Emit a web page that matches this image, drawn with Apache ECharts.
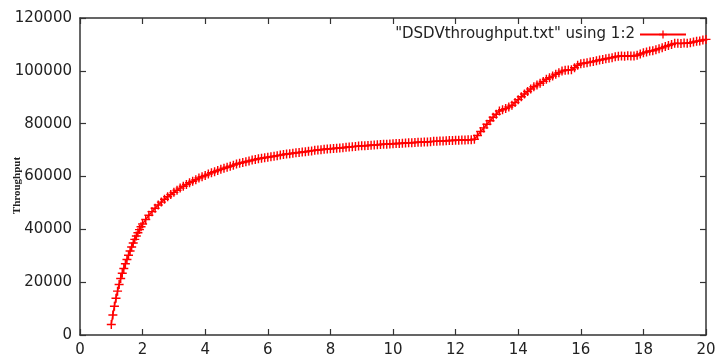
<!DOCTYPE html>
<html>
<head>
<meta charset="utf-8">
<script src="https://cdn.jsdelivr.net/npm/echarts@6/dist/echarts.min.js"></script>
<style>html,body{margin:0;padding:0;background:#fff;}#c{width:720px;height:358px;}</style>
</head>
<body>
<div id="c"></div>
<script>
var seriesName = '"DSDVthroughput.txt" using 1:2';
var times = [
1.00,1.05,1.10,1.15,1.20,1.25,1.30,1.35,1.40,1.45,1.50,1.55,1.60,1.65,1.70,1.75,1.80,1.85,1.90,1.95,2.00,
2.1,2.2,2.3,2.4,2.5,2.6,2.7,2.8,2.9,3.0,
3.1,3.2,3.3,3.4,3.5,3.6,3.7,3.8,3.9,4.0,
4.1,4.2,4.3,4.4,4.5,4.6,4.7,4.8,4.9,5.0,
5.1,5.2,5.3,5.4,5.5,5.6,5.7,5.8,5.9,6.0,
6.1,6.2,6.3,6.4,6.5,6.6,6.7,6.8,6.9,7.0,
7.1,7.2,7.3,7.4,7.5,7.6,7.7,7.8,7.9,8.0,
8.1,8.2,8.3,8.4,8.5,8.6,8.7,8.8,8.9,9.0,
9.1,9.2,9.3,9.4,9.5,9.6,9.7,9.8,9.9,10.0,
10.1,10.2,10.3,10.4,10.5,10.6,10.7,10.8,10.9,11.0,
11.1,11.2,11.3,11.4,11.5,11.6,11.7,11.8,11.9,12.0,
12.1,12.2,12.3,12.4,12.5,
12.6,12.7,12.8,12.9,13.0,
13.1,13.2,13.3,13.4,13.5,13.6,13.7,13.8,13.9,14.0,
14.1,14.2,14.3,14.4,14.5,14.6,14.7,14.8,14.9,15.0,
15.1,15.2,15.3,15.4,15.5,15.6,15.7,15.8,15.9,16.0,
16.1,16.2,16.3,16.4,16.5,16.6,16.7,16.8,16.9,17.0,
17.1,17.2,17.3,17.4,17.5,17.6,17.7,17.8,17.9,18.0,
18.1,18.2,18.3,18.4,18.5,18.6,18.7,18.8,18.9,19.0,
19.1,19.2,19.3,19.4,19.5,19.6,19.7,19.8,19.9,20.0
];
var throughput = [
4000,7600,10900,13900,16600,19100,21400,23400,25200,27000,28600,30200,31800,33300,34800,36200,37500,38700,39900,41000,42000,
43700,45300,46700,48000,49200,50300,51400,52300,53200,54000,
54800,55600,56300,57000,57600,58200,58800,59400,59900,60400,
60900,61400,61800,62300,62700,63100,63500,63900,64300,64700,
65000,65300,65600,65900,66200,66400,66700,66900,67100,67300,
67500,67700,67900,68100,68300,68500,68600,68800,69000,69100,
69300,69400,69600,69700,69900,70000,70100,70300,70400,70500,
70600,70700,70800,70900,71100,71200,71300,71400,71500,71600,
71600,71700,71800,71900,72000,72100,72200,72200,72300,72400,
72500,72500,72600,72700,72800,72800,72900,73000,73000,73100,
73100,73200,73300,73300,73400,73400,73500,73600,73600,73700,
73700,73800,73800,73900,73900,
74100,75500,77000,78400,79800,
81100,82400,83600,84800,85300,85700,86300,87000,88000,89100,
90200,91200,92200,93100,94000,94600,95300,96000,96800,97400,
98000,98700,99300,99900,100200,100300,100400,101200,102100,102700,
102900,103100,103300,103500,103800,104100,104300,104600,104800,105000,
105300,105500,105600,105500,105700,105600,105600,105900,106400,106800,
107100,107500,107600,108000,108400,108700,109200,109600,110000,110400,
110400,110300,110500,110400,110600,110900,111200,111300,111700,111900
];
var xTicks = [0,2,4,6,8,10,12,14,16,18,20];
var yTicks = [0,20000,40000,60000,80000,100000,120000];

var pts = times.map(function(t,i){ return [t, throughput[i]]; });
var plus = 'path://M4.2,0H5.8V4.2H10V5.8H5.8V10H4.2V5.8H0V4.2H4.2Z';
var axisCol = '#333';
var font = 'DejaVu Sans';
function axisBase(show){
  return {
    axisLine:{show:true, onZero:false, lineStyle:{color:axisCol, width:1.5}},
    axisTick:{show:true, inside:true, length:6, lineStyle:{color:axisCol, width:1.2}},
    splitLine:{show:false},
    axisLabel:{show:show, color:'#222', fontFamily:font, fontSize:15, margin:8, formatter:function(v){return String(v);}}
  };
}
var xb = Object.assign({type:'value', position:'bottom', min:xTicks[0], max:xTicks[xTicks.length-1], interval:2}, axisBase(true));
var xt = Object.assign({type:'value', position:'top', min:xTicks[0], max:xTicks[xTicks.length-1], interval:2}, axisBase(false));
var yl = Object.assign({type:'value', position:'left', min:yTicks[0], max:yTicks[yTicks.length-1], interval:20000,
  name:'Throughput', nameLocation:'middle', nameRotate:90, nameGap:57, nameMoveOverlap:false,
  nameTextStyle:{fontFamily:'Liberation Serif', fontWeight:'bold', fontSize:11, color:'#222', padding:[0,18,0,0]}}, axisBase(true));
var yr = Object.assign({type:'value', position:'right', min:yTicks[0], max:yTicks[yTicks.length-1], interval:20000}, axisBase(false));

var chart = echarts.init(document.getElementById('c'), null, {renderer:'canvas'});
chart.setOption({
  animation:false,
  backgroundColor:'#fff',
  grid:{left:80, right:14, top:18, bottom:23, containLabel:false, outerBoundsMode:'none'},
  legend:{
    right:28, top:22, align:'right', itemWidth:46, itemHeight:10, itemGap:10,
    textStyle:{fontFamily:font, fontSize:15, color:'#222'},
    data:[seriesName]
  },
  xAxis:[xb, xt],
  yAxis:[yl, yr],
  series:[{
    name:seriesName, type:'line', xAxisIndex:0, yAxisIndex:0,
    data:pts, showAllSymbol:true, symbol:plus, symbolSize:9,
    lineStyle:{color:'#ff0000', width:1.5},
    itemStyle:{color:'#ff0000'}
  }]
});
</script>
</body>
</html>
